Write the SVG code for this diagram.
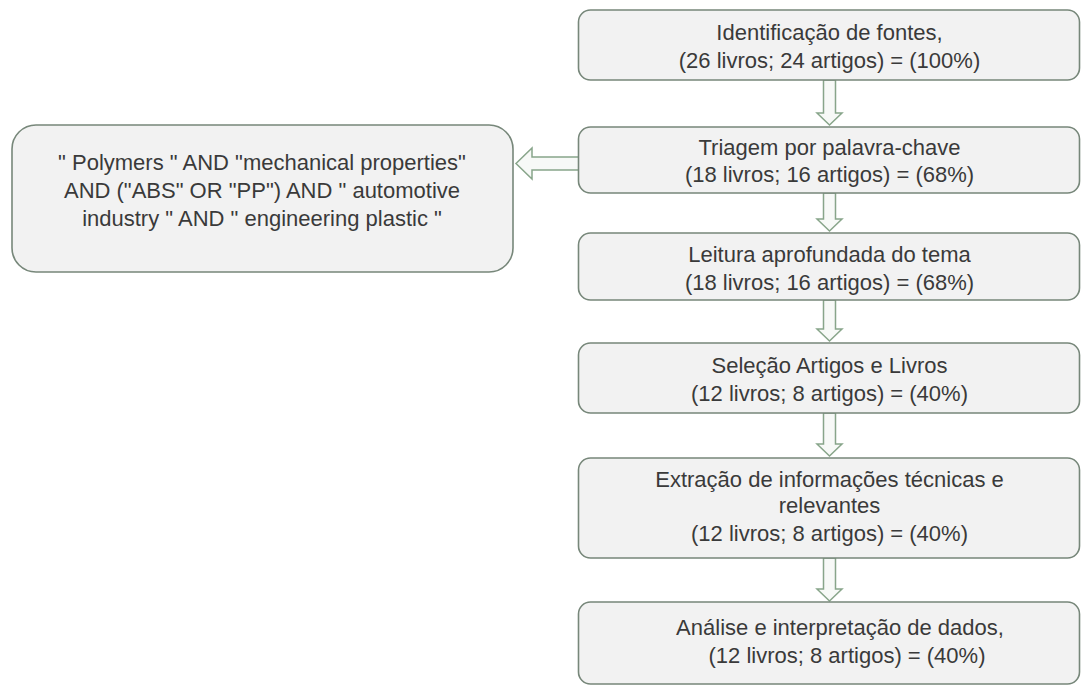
<svg xmlns="http://www.w3.org/2000/svg" width="1081" height="686" viewBox="0 0 1081 686">
<style>
.box{fill:#f2f2f2;stroke:#77877a;stroke-width:1.6}
.arr{fill:#f7f9f7;stroke:#88a58a;stroke-width:1.5;stroke-linejoin:miter}
text{font-family:"Liberation Sans",Arial,sans-serif;font-size:22px;fill:#3a3a3a;text-anchor:middle}
</style>
<rect width="1081" height="686" fill="#ffffff"/>
<g id="connectors">
<polygon class="arr" points="823.5,80 835.5,80 835.5,113 842,113 829.5,125 817,113 823.5,113"/>
<polygon class="arr" points="823.5,193 835.5,193 835.5,219 842,219 829.5,231 817,219 823.5,219"/>
<polygon class="arr" points="823.5,300 835.5,300 835.5,329 842,329 829.5,341 817,329 823.5,329"/>
<polygon class="arr" points="823.5,413 835.5,413 835.5,444 842,444 829.5,456 817,444 823.5,444"/>
<polygon class="arr" points="823.5,558 835.5,558 835.5,589 842,589 829.5,601 817,589 823.5,589"/>
<polygon class="arr" points="579,157 532,157 532,148 516,163.5 532,179 532,170 579,170"/>
</g>
<g id="n1">
<rect class="box" x="578.5" y="10" width="501" height="70" rx="12"/>
<text x="829.5" y="40">Identificação de fontes,</text>
<text x="829.5" y="68">(26 livros; 24 artigos) = (100%)</text>
</g>
<g id="n2">
<rect class="box" x="578.5" y="127" width="501" height="66" rx="12"/>
<text x="829.5" y="155">Triagem por palavra-chave</text>
<text x="829.5" y="182">(18 livros; 16 artigos) = (68%)</text>
</g>
<g id="n3">
<rect class="box" x="578.5" y="233" width="501" height="67" rx="12"/>
<text x="829.5" y="262">Leitura aprofundada do tema</text>
<text x="829.5" y="290">(18 livros; 16 artigos) = (68%)</text>
</g>
<g id="n4">
<rect class="box" x="578.5" y="343" width="501" height="70" rx="12"/>
<text x="829.5" y="373">Seleção Artigos e Livros</text>
<text x="829.5" y="401">(12 livros; 8 artigos) = (40%)</text>
</g>
<g id="n5">
<rect class="box" x="578.5" y="458" width="501" height="100" rx="12"/>
<text x="829.5" y="487">Extração de informações técnicas e</text>
<text x="829.5" y="513">relevantes</text>
<text x="829.5" y="541">(12 livros; 8 artigos) = (40%)</text>
</g>
<g id="n6">
<rect class="box" x="578.5" y="602" width="501" height="82" rx="12"/>
<text x="840" y="635">Análise e interpretação de dados,</text>
<text x="847" y="663">(12 livros; 8 artigos) = (40%)</text>
</g>
<g id="n7">
<rect class="box" x="12" y="125" width="501" height="147" rx="24"/>
<text x="262" y="170">" Polymers " AND "mechanical properties"</text>
<text x="262" y="198">AND ("ABS" OR "PP") AND " automotive</text>
<text x="262" y="226">industry " AND " engineering plastic "</text>
</g>
</svg>
